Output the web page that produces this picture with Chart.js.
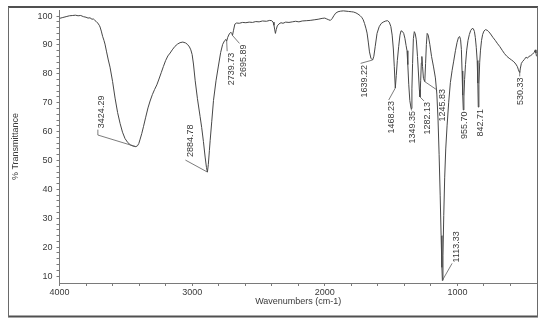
<!DOCTYPE html>
<html>
<head>
<meta charset="utf-8">
<title>IR spectrum</title>
<script src="https://cdn.jsdelivr.net/npm/chart.js@4.4.1/dist/chart.umd.min.js"></script>
<style>
  body { margin: 0; background: #fff; }
  canvas { display: block; }
</style>
</head>
<body>
<canvas id="irChart" width="543" height="329"></canvas>
<script>
// spectrum, high to low wavenumber
const wavenumbers = [
  4000, 3975, 3950, 3925, 3900, 3880, 3860, 3840, 3820, 3800, 3785, 3770, 3755, 3745, 3735, 3725, 3712, 3700,
  3694, 3685, 3675, 3665, 3657, 3645, 3632, 3619, 3600, 3581, 3562, 3543, 3525, 3506, 3485, 3465, 3445, 3424.29,
  3412, 3402, 3392, 3380, 3367, 3350, 3333, 3317, 3300, 3283, 3266, 3250, 3233, 3217, 3200, 3183, 3166, 3150,
  3130, 3110, 3091, 3070, 3050, 3035, 3020, 3010, 3000, 2990, 2977, 2960, 2940, 2928, 2915, 2902, 2892, 2884.78,
  2878, 2870, 2864, 2852, 2839, 2820, 2802, 2785, 2770, 2755, 2745, 2739.73, 2732, 2720, 2708, 2700, 2695.89,
  2688, 2678, 2665, 2645, 2620, 2595, 2570, 2545, 2520, 2495, 2470, 2440, 2415, 2400, 2390, 2383, 2377, 2372,
  2366, 2358, 2345, 2330, 2315, 2295, 2270, 2245, 2220, 2195, 2170, 2140, 2110, 2080, 2050, 2020, 2000, 1985,
  1970, 1958, 1945, 1932, 1918, 1900, 1880, 1860, 1840, 1820, 1800, 1783, 1765, 1750, 1735, 1722, 1710, 1700,
  1690, 1681, 1672, 1663, 1652, 1639.22, 1630, 1620, 1606, 1590, 1575, 1560, 1540, 1526, 1514, 1502, 1492, 1483,
  1476, 1468.23, 1461, 1453, 1443, 1433, 1425, 1415, 1405, 1396, 1387, 1380, 1374, 1367, 1359, 1349.35, 1343,
  1338, 1332, 1325, 1318, 1310, 1301, 1293, 1287, 1282.13, 1277, 1272, 1268, 1263, 1256, 1245.83, 1240, 1234,
  1228, 1220, 1208, 1195, 1180, 1166, 1155, 1146, 1138, 1130, 1123, 1117, 1113.33, 1109, 1103, 1096, 1088, 1078,
  1066, 1053, 1040, 1028, 1015, 1003, 992, 983, 976, 970, 965, 960, 955.70, 951, 946, 939, 930, 920, 910, 900,
  889, 880, 872, 865, 858, 851, 846, 842.71, 838, 832, 826, 818, 810, 800, 789, 776, 764, 750, 732, 715, 700,
  680, 660, 645, 628, 610, 592, 575, 560, 548, 540, 535, 530.33, 525, 518, 510, 495, 482, 472, 462, 448, 434,
  422, 413, 408, 404, 400
];
const transmittance = [
  99.2, 99.5, 99.8, 100.1, 100.2, 100.3, 100.1, 100.2, 99.8, 99.6, 99.3, 99.4, 98.9, 99.0, 98.6, 98.2, 97.6, 96.8,
  96.2, 94.8, 93.0, 91.6, 90.3, 87.6, 84.8, 82.3, 77.4, 71.6, 66.6, 62.8, 59.8, 57.6, 56.2, 55.4, 55.0, 54.8,
  55.1, 55.9, 57.4, 59.3, 61.7, 65.0, 68.2, 70.6, 72.8, 74.6, 76.2, 78.2, 80.4, 82.5, 84.6, 86.2, 87.2, 88.3,
  89.5, 90.3, 90.8, 91.0, 90.7, 90.2, 89.3, 88.3, 86.7, 83.4, 77.6, 71.4, 65.2, 61.4, 56.6, 51.2, 47.6, 46.0,
  48.6, 53.4, 57.0, 63.6, 70.8, 77.6, 82.7, 87.4, 90.2, 91.5, 91.9, 91.3, 92.6, 93.8, 94.4, 93.9, 93.3,
  95.1, 97.2, 97.6, 97.5, 97.8, 97.7, 97.9, 97.8, 98.1, 98.0, 98.3, 98.2, 98.5, 98.4, 97.9, 96.8, 95.2, 94.0,
  95.3, 96.6, 97.3, 97.7, 97.5, 97.9, 97.8, 98.0, 98.2, 98.0, 98.3, 98.4, 98.5, 98.7, 98.9, 99.2, 99.3, 99.0,
  98.7, 98.5, 99.1, 100.1, 101.0, 101.5, 101.7, 101.8, 101.7, 101.6, 101.5, 101.4, 101.1, 100.7, 100.2, 99.6, 98.7, 97.4,
  95.8, 94.1, 91.0, 87.6, 85.4, 84.8, 86.1, 89.4, 94.0, 96.3, 97.4, 97.9, 98.3, 98.4, 97.9, 96.4, 93.4, 88.6,
  82.6, 75.1, 79.4, 84.6, 89.4, 93.4, 94.9, 94.7, 94.0, 92.3, 89.8, 88.0, 83.2, 76.4, 70.8, 68.0, 74.8,
  83.6, 92.2, 94.6, 93.9, 91.8, 86.0, 79.6, 74.6, 72.0, 77.6, 83.8, 86.0, 82.6, 78.4, 77.3, 83.6, 90.2,
  94.0, 93.4, 90.2, 86.0, 82.4, 78.6, 73.0, 64.0, 52.0, 38.0, 24.0, 13.0, 8.5, 17.0, 31.0, 44.0, 54.0, 62.0,
  70.0, 77.0, 81.2, 84.4, 88.0, 90.8, 92.6, 92.9, 91.8, 88.4, 81.0, 72.6, 67.5, 72.0, 78.0, 83.2, 88.2, 91.6, 93.6, 95.0,
  95.7, 95.6, 94.7, 92.6, 89.2, 84.6, 76.8, 68.5, 76.2, 84.0, 88.2, 91.6, 93.6, 94.8, 95.3, 95.1, 94.6, 93.8, 92.6, 91.6, 90.6,
  89.4, 88.0, 87.0, 86.1, 85.4, 84.8, 84.2, 83.4, 82.5, 81.4, 80.8, 80.5, 82.0, 83.6, 84.2, 85.0, 85.8, 85.4, 86.0, 86.3, 86.8,
  87.4, 88.3, 87.2, 86.2, 86.0
];

const peakLabels = [3424.29, 2884.78, 2739.73, 2695.89, 1639.22, 1468.23, 1349.35, 1282.13, 1245.83, 1113.33, 955.70, 842.71, 530.33];

const xTickLabels = [4000, 3000, 2000, 1000];
const yTickLabels = [10, 20, 30, 40, 50, 60, 70, 80, 90, 100];

// leader line bends and text anchor, relative to the peak point (px)
const labelLayout = [
  { path: [[-38, -11.6], [-38, -17]], text: [-34.5, -18.5, 'up'] },
  { path: [[-22, -12]], text: [-17, -15, 'up'] },
  { path: [[0.5, 10]], text: [5, 11.5, 'down'] },
  { path: [[7, 8]], text: [11, 9, 'down'] },
  { path: [[-12, 3.4]], text: [-8, 5, 'down'] },
  { path: [[-6.6, 12]], text: [-3.3, 13, 'down'] },
  { path: [[0.5, 2]], text: [1.3, 2.5, 'down'] },
  { path: [[4, 4]], text: [8, 5, 'down'] },
  { path: [[12.3, 8.4]], text: [17.6, 7.4, 'down'] },
  { path: [[9.7, -17]], text: [14.5, -18, 'up'] },
  { path: [], text: [0.8, 1.5, 'down'] },
  { path: [], text: [2, 2, 'down'] },
  { path: [[0, 4]], text: [1, 5, 'down'] }
];

const xMinorTicks = [];
for (let v = 400; v <= 4000; v += 200) xMinorTicks.push(v);
const yMinorTicks = [];
for (let v = 10; v <= 100; v += 2) yMinorTicks.push(v);

const FONT = "'Liberation Sans', Arial, sans-serif";
const TEXT_COLOR = "#3a3a3a";
const AXIS_COLOR = "#7a7a7a";

const peakLabelPlugin = {
  id: "peakLabels",
  afterDatasetsDraw(chart) {
    const { ctx, scales: { x, y } } = chart;
    ctx.save();
    ctx.strokeStyle = "#5a5a5a";
    ctx.lineWidth = 0.8;
    ctx.fillStyle = TEXT_COLOR;
    ctx.font = "9px " + FONT;
    peakLabels.forEach((wn, i) => {
      const idx = wavenumbers.indexOf(wn);
      const px = x.getPixelForValue(wn);
      const py = y.getPixelForValue(transmittance[idx]);
      const lay = labelLayout[i];
      if (lay.path.length) {
        ctx.beginPath();
        ctx.moveTo(px, py);
        lay.path.forEach(([dx, dy]) => ctx.lineTo(px + dx, py + dy));
        ctx.stroke();
      }
      const [tx, ty, dir] = lay.text;
      ctx.save();
      ctx.translate(px + tx, py + ty);
      ctx.rotate(-Math.PI / 2);
      ctx.textBaseline = "middle";
      ctx.textAlign = dir === "down" ? "right" : "left";
      ctx.fillText(wn.toFixed(2), 0, 0);
      ctx.restore();
    });
    ctx.restore();
  }
};

const framePlugin = {
  id: "frame",
  afterDraw(chart) {
    const ctx = chart.ctx;
    ctx.save();
    ctx.strokeStyle = "#505050";
    ctx.lineWidth = 2;
    ctx.beginPath();
    ctx.moveTo(8, 7); ctx.lineTo(538, 7);
    ctx.moveTo(8, 316.5); ctx.lineTo(538, 316.5);
    ctx.stroke();
    ctx.lineWidth = 1;
    ctx.strokeStyle = "#6a6a6a";
    ctx.beginPath();
    ctx.moveTo(8.5, 7); ctx.lineTo(8.5, 317);
    ctx.moveTo(537.5, 7); ctx.lineTo(537.5, 317);
    ctx.stroke();
    ctx.restore();
  }
};

new Chart(document.getElementById("irChart").getContext("2d"), {
  type: "line",
  data: {
    datasets: [{
      data: wavenumbers.map((wn, i) => ({ x: wn, y: transmittance[i] })),
      borderColor: "#474747",
      borderWidth: 1,
      pointRadius: 0,
      tension: 0,
      fill: false
    }]
  },
  options: {
    responsive: false,
    animation: false,
    devicePixelRatio: 1,
    layout: { padding: { left: 6, top: 10, right: 6, bottom: 18 } },
    plugins: {
      legend: { display: false },
      tooltip: { enabled: false }
    },
    scales: {
      x: {
        type: "linear",
        reverse: true,
        min: 400,
        max: 4000,
        afterBuildTicks: s => { s.ticks = xMinorTicks.map(v => ({ value: v })); },
        afterFit: s => { s.height = 28; },
        ticks: {
          autoSkip: false,
          maxRotation: 0,
          minRotation: 0,
          padding: 1,
          color: TEXT_COLOR,
          font: { family: FONT, size: 9 },
          callback: v => xTickLabels.includes(v) ? String(v) : ""
        },
        grid: { drawOnChartArea: false, tickLength: 3, color: AXIS_COLOR },
        border: { color: AXIS_COLOR },
        title: {
          display: true,
          text: "Wavenumbers (cm-1)",
          color: TEXT_COLOR,
          font: { family: FONT, size: 9 }
        }
      },
      y: {
        min: 7.6,
        max: 102.1,
        afterBuildTicks: s => { s.ticks = yMinorTicks.map(v => ({ value: v })); },
        afterFit: s => { s.width = 53.5; },
        ticks: {
          autoSkip: false,
          padding: 4,
          color: TEXT_COLOR,
          font: { family: FONT, size: 9 },
          callback: v => yTickLabels.includes(v) ? String(v) : ""
        },
        grid: { drawOnChartArea: false, tickLength: 3, color: AXIS_COLOR },
        border: { color: AXIS_COLOR },
        title: {
          display: true,
          text: "% Transmittance",
          color: TEXT_COLOR,
          font: { family: FONT, size: 9 }
        }
      }
    }
  },
  plugins: [peakLabelPlugin, framePlugin]
});
</script>
</body>
</html>
